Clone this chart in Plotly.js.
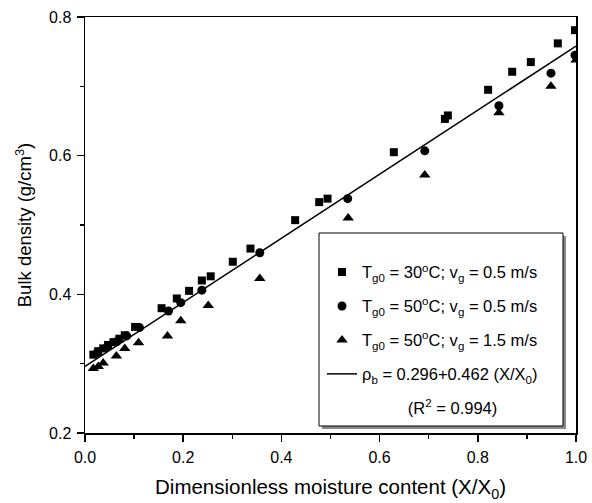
<!DOCTYPE html>
<html>
<head>
<meta charset="utf-8">
<script src="https://cdn.plot.ly/plotly-3.0.1.min.js"></script>
<style>html,body{margin:0;padding:0;background:#fff;}#chart{width:592px;height:503px;}</style>
</head>
<body>
<div id="chart"></div>
<script>
// Series 1: Tg0 = 30 C, vg = 0.5 m/s (squares)
const sqX = [0.017, 0.027, 0.037, 0.047, 0.058, 0.070, 0.081, 0.102, 0.156, 0.187, 0.212, 0.238, 0.256, 0.301, 0.337, 0.428, 0.477, 0.494, 0.629, 0.733, 0.739, 0.821, 0.870, 0.908, 0.963, 0.998];
const sqY = [0.313, 0.318, 0.322, 0.327, 0.331, 0.336, 0.341, 0.353, 0.380, 0.394, 0.405, 0.420, 0.426, 0.447, 0.466, 0.507, 0.533, 0.538, 0.605, 0.653, 0.658, 0.695, 0.721, 0.735, 0.762, 0.781];
// Series 2: Tg0 = 50 C, vg = 0.5 m/s (circles)
const ciX = [0.025, 0.045, 0.065, 0.085, 0.111, 0.170, 0.195, 0.238, 0.356, 0.535, 0.692, 0.843, 0.949, 0.998];
const ciY = [0.316, 0.324, 0.332, 0.340, 0.352, 0.376, 0.388, 0.406, 0.460, 0.538, 0.607, 0.672, 0.719, 0.745];
// Series 3: Tg0 = 50 C, vg = 1.5 m/s (triangles)
const trX = [0.017, 0.027, 0.037, 0.064, 0.081, 0.109, 0.168, 0.195, 0.251, 0.356, 0.536, 0.692, 0.843, 0.949, 1.000];
const trY = [0.293, 0.296, 0.301, 0.311, 0.322, 0.330, 0.340, 0.362, 0.384, 0.423, 0.510, 0.572, 0.662, 0.700, 0.738];
// Fitted line rho_b = 0.296 + 0.462 (X/X0), endpoints
const fitX = [0, 1];
const fitY = [0.296, 0.758];

const NB = '\u00a0';
const names = [
  "T<sub>g0</sub> = 30<sup>o</sup>C; v<sub>g</sub> = 0.5 m/s",
  "T<sub>g0</sub> = 50<sup>o</sup>C; v<sub>g</sub> = 0.5 m/s",
  "T<sub>g0</sub> = 50<sup>o</sup>C; v<sub>g</sub> = 1.5 m/s",
  "\u03c1<sub>b</sub> = 0.296+0.462 (X/X<sub>0</sub>)",
  NB.repeat(10) + "(R<sup>2</sup> = 0.994)"
];

const FONT = 'Arial, "Liberation Sans", sans-serif';

const traces = [
  {x: sqX, y: sqY, mode: 'markers', name: names[0], legendgroup: 'a',
   marker: {symbol: 'square', size: 8, color: '#000'}},
  {x: ciX, y: ciY, mode: 'markers', name: names[1], legendgroup: 'b',
   marker: {symbol: 'circle', size: 9, color: '#000'}},
  {x: trX, y: trY, mode: 'markers', name: names[2], legendgroup: 'c',
   marker: {symbol: 'triangle-up', size: 10, color: '#000'}},
  {x: fitX, y: fitY, mode: 'lines', name: names[3], legendgroup: 'd',
   line: {color: '#000', width: 1.5}},
  {x: [null], y: [null], mode: 'lines', name: names[4], legendgroup: 'e',
   line: {color: 'rgba(0,0,0,0)', width: 0}}
];

const axisCommon = {
  showline: true, linecolor: '#000', linewidth: 1.5, mirror: true,
  ticks: 'outside', ticklen: 7, tickwidth: 1.5, tickcolor: '#000',
  showgrid: false, zeroline: false, ticklabelstandoff: 2,
  tickfont: {family: FONT, size: 16, color: '#000'},
  minor: {ticks: 'outside', ticklen: 4, tickwidth: 1.5, tickcolor: '#000', dtick: 0.1, showgrid: false}
};

// plot area in pixels: left 85, right 576, top 17, bottom 433
const px = function (p) { return (p - 85) / 491; };
const py = function (p) { return (433 - p) / 416; };

const layout = {
  width: 592, height: 503,
  margin: {l: 85, r: 16, t: 17, b: 70},
  paper_bgcolor: '#fff', plot_bgcolor: '#fff',
  font: {family: FONT, size: 16, color: '#000'},
  xaxis: Object.assign({}, axisCommon, {
    range: [0, 1], dtick: 0.2, tickformat: '.1f',
    title: {text: 'Dimensionless moisture content (X/X<sub>0</sub>)', font: {size: 20.5}, standoff: 15}
  }),
  yaxis: Object.assign({}, axisCommon, {
    range: [0.2, 0.8], dtick: 0.2, tickformat: '.1f',
    title: {text: 'Bulk density (g/cm<sup>3</sup>)' + NB.repeat(7), font: {size: 18.5}, standoff: 12}
  }),
  showlegend: true,
  legend: {
    x: px(320), y: py(234), xanchor: 'left', yanchor: 'top',
    bgcolor: 'rgba(0,0,0,0)', borderwidth: 0,
    traceorder: 'grouped', tracegroupgap: 9.5, indentation: 2,
    title: {text: NB, font: {size: 16}},
    font: {family: FONT, size: 16.5}
  },
  shapes: [
    // legend frame: gray drop shadow, then white box with black border
    {type: 'rect', xref: 'paper', yref: 'paper', layer: 'above',
     x0: px(322), x1: px(566), y0: py(429), y1: py(236),
     fillcolor: '#8a8a8a', line: {width: 0}},
    {type: 'rect', xref: 'paper', yref: 'paper', layer: 'above',
     x0: px(319), x1: px(563), y0: py(426), y1: py(233),
     fillcolor: '#fff', line: {color: '#000', width: 1}}
  ]
};

Plotly.newPlot('chart', traces, layout, {displayModeBar: false, staticPlot: true});
</script>
</body>
</html>
